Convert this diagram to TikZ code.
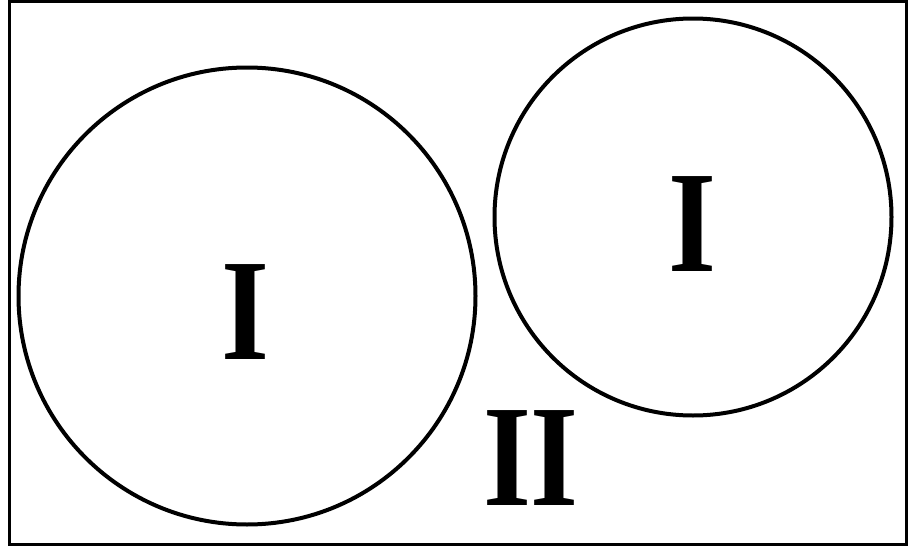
\documentclass[tikz,border=0pt]{standalone}
\usepackage{fontspec}
\setmainfont{Liberation Serif}
\usepackage{tikz}

\begin{document}
\begin{tikzpicture}[x=1pt,y=-1pt,
    ring/.style={circle,draw,line width=4pt,inner sep=0pt},
    roman/.style={inner sep=0pt,xscale=0.85,font=\fontsize{145}{145}\selectfont\bfseries}]
  \useasboundingbox (0,0) rectangle (908,546);
  \draw[line width=3pt] (9.5,1.5) rectangle (906.5,544.5);
  \node[ring,minimum size=457] (big) at (247,296) {};
  \node[ring,minimum size=397] (small) at (693,217) {};
  \node[roman] (bigI) at (245,312) {I};
  \node[roman] (smallI) at (692,224) {I};
  \node[roman] (outII) at (531,458) {II};
\end{tikzpicture}
\end{document}
